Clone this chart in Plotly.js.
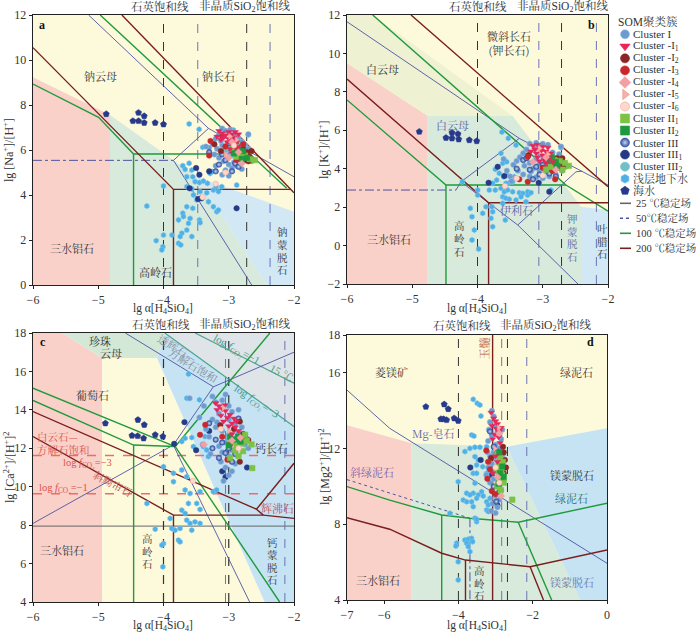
<!DOCTYPE html>
<html><head><meta charset="utf-8">
<script src="https://cdn.plot.ly/plotly-3.0.1.min.js"></script>
<style>html,body{margin:0;padding:0;background:#fff}#plot{width:700px;height:632px}</style>
</head><body><div id="plot"></div>
<script>
const SER='"Liberation Serif","Noto Serif CJK SC","Noto Sans CJK SC",serif';
const CJK='"Noto Serif CJK SC","Noto Sans CJK SC",sans-serif';

// ---------- panel a : lg[Na+]/[H+] ----------
const aYellow=[[-6,0],[-2,0],[-2,12],[-6,12]];
const aPink=[[-6,9.23],[-4.82,7.56],[-4.82,0],[-6,0]];
const aMint=[[-4.82,7.56],[-3.49,4.81],[-2.42,0],[-4.82,0]];
const aBlue=[[-3.49,4.81],[-2,3.26],[-2,0],[-2.42,0]];
const aBrown=[[[-6,10.55],[-3.847,4.25],[-2.054,4.25]],[[-4.638,12],[-2,4.10]],[[-3.847,4.25],[-3.847,0]]];
const aGreen=[[[-6,8.93],[-4.995,7.45],[-4.459,5.82],[-2.676,5.82]],[[-4.97,12],[-2.112,4.30]],[[-4.459,5.82],[-4.459,0]]];
const aNavy=[[[-3.847,5.54],[-3.31,6.96]],[[-5.148,12],[-3.31,6.96],[-2,4.81]],[[-3.847,5.54],[-2.648,0]]];
const aNavyDD=[[[-6,5.54],[-3.847,5.54]]];
const aQtz=[-4.0,-2.725], aAmo=[-3.475,-2.367];
const aSW=[[-4.878,7.60],[-4.469,7.29],[-4.383,7.66],[-4.383,7.29],[-4.296,7.51],[-4.296,7.21],[-4.128,7.21],[-4.0,7.14]];
const aGW=[[-3.607,7.16],[-3.454,6.92],[-3.398,6.12],[-3.704,5.30],[-3.668,5.14],[-3.607,5.41],[-3.566,5.11],[-3.643,4.81],[-3.551,4.81],[-3.515,4.59],[-3.449,4.55],[-3.388,4.62],[-3.327,4.52],[-3.286,4.96],[-3.255,5.04],[-4.0,4.40],[-3.643,4.37],[-3.566,4.27],[-3.541,4.00],[-3.439,4.15],[-3.337,4.10],[-3.235,4.22],[-3.194,4.37],[-3.158,4.15],[-3.107,4.37],[-3.413,3.85],[-3.490,3.78],[-3.551,3.41],[-3.643,3.48],[-3.704,3.19],[-3.770,2.89],[-3.694,3.04],[-3.592,2.96],[-3.449,2.89],[-3.439,2.77],[-3.617,2.74],[-3.643,2.44],[-3.719,2.30],[-3.566,2.15],[-3.770,1.85],[-3.735,1.78],[-4.0,2.22],[-4.112,1.97],[-4.010,1.70],[-4.026,1.56],[-4.255,3.51],[-3.311,3.70],[-3.235,3.48],[-3.184,3.26],[-3.158,3.33],[-2.878,4.44],[-2.699,6.67],[-2.929,6.89],[-3.87,2.22],[-3.745,2.15]];
const aC1=[[-3.10,6.95],[-3.05,6.85],[-2.98,6.9],[-3.15,6.7],[-3.2,6.5],[-3.25,6.3],[-3.3,6.1],[-3.35,6.15],[-3.18,6.05],[-3.1,6.2],[-3.02,6.3],[-2.95,6.45],[-2.9,6.6],[-2.85,6.5],[-2.8,6.35],[-2.75,6.2],[-2.7,6.05],[-2.72,5.85],[-2.78,5.7],[-2.85,5.6],[-2.92,5.45],[-3.0,5.35],[-3.08,5.5],[-3.15,5.65],[-3.22,5.8],[-3.12,5.9],[-3.05,6.0],[-2.98,5.85],[-2.9,5.95],[-2.95,5.2],[-3.05,5.1],[-2.88,5.3],[-2.8,5.15],[-2.7,6.7],[-3.2,5.3],[-2.65,5.5],[-3.1,4.9],[-3.0,4.85],[-2.82,6.1],[-3.12,6.4]];
const aC1_1=[[-3.15,6.85],[-3.1,6.75],[-3.05,6.65],[-3.0,6.8],[-2.95,6.7],[-2.9,6.8],[-2.85,6.7],[-3.08,6.55],[-3.0,6.5],[-2.92,6.55],[-2.88,6.35],[-3.12,6.45],[-3.02,6.35],[-2.95,6.25],[-2.85,6.15],[-3.18,6.6],[-2.98,6.05],[-2.9,6.1]];
const aC1_2=[[-2.78,6.05],[-2.72,5.9],[-2.68,5.7],[-2.75,5.55],[-2.65,5.95],[-3.22,6.25],[-3.12,5.95],[-2.82,5.8],[-2.7,5.5]];
const aC1_3=[[-3.28,6.4],[-3.05,6.15],[-2.95,5.95],[-3.3,5.75],[-2.88,5.55],[-2.78,6.25],[-3.1,6.6]];
const aC1_4=[[-2.95,6.35],[-2.85,5.9],[-3.0,5.65],[-2.8,5.4]];
const aC1_5=[[-2.98,6.6],[-2.88,6.45],[-3.05,5.8]];
const aC1_6=[[-3.05,5.0],[-2.92,6.2],[-3.4,3.9],[-3.2,4.5]];
const aC2_1=[[-2.9,5.95],[-2.82,5.85],[-2.75,5.75],[-2.68,5.6],[-2.6,5.55],[-2.88,5.7],[-2.95,6.05]];
const aC2_2=[[-2.85,6.0],[-2.78,5.95],[-2.92,5.85],[-2.72,5.65],[-2.8,5.6]];
const aC3=[[-3.0,6.1],[-3.1,5.8],[-2.9,5.4],[-3.05,5.55],[-2.85,5.25],[-3.15,5.35],[-2.95,5.05],[-3.2,5.05],[-3.3,5.9]];
const aC3_1=[[-3.5,5.2],[-3.45,4.9],[-3.42,3.85],[-3.47,3.82],[-2.88,3.41],[-3.6,4.3],[-3.3,5.05]];
const aC3_2=[[-2.95,5.75],[-3.05,6.05]];

// ---------- panel b : lg[K+]/[H+] ----------
const bYellow=[[-6,-2],[-2,-2],[-2,12],[-6,12]];
const bPale=[[-6,12],[-5.606,12],[-3.46,6.74],[-4.763,6.74],[-6,9.49]];
const bPink=[[-6,9.49],[-4.763,6.74],[-4.763,-2],[-6,-2]];
const bMint=[[-4.763,6.74],[-3.46,6.74],[-2.414,2.02],[-2.414,-2],[-4.763,-2]];
const bBlue=[[-2.414,2.02],[-2,1.85],[-2,-2],[-2.414,-2]];
const bBrown=[[[-5.019,12],[-2,3.06]],[[-6,8.67],[-3.83,2.23],[-2,2.23]],[[-3.83,2.23],[-3.83,-2]]];
const bGreen=[[[-5.606,12],[-2.644,3.15],[-2,1.79]],[[-6,7.58],[-4.483,3.15],[-2.644,3.15]],[[-4.483,3.15],[-4.483,-2]]];
const bNavy=[[[-6,11.65],[-3.36,5.58],[-2,3.15]],[[-4.33,2.89],[-4.253,3.32],[-3.36,5.58]],[[-4.253,3.32],[-3.383,1.07],[-2.49,3.84],[-2.40,3.87]],[[-3.383,1.07],[-2.46,-2]]];
const bNavyDD=[[[-6,2.89],[-4.33,2.89]]];
const bQtz=[-4.0,-2.712], bAmo=[-3.06,-2.178];
const bSW=[[-4.892,5.93],[-4.483,5.61],[-4.391,5.87],[-4.391,5.58],[-4.299,5.81],[-4.288,5.53],[-4.126,5.49],[-4.012,5.44]];
const bGW=[[-3.625,5.91],[-3.528,5.58],[-3.410,5.23],[-3.640,4.80],[-3.614,4.28],[-3.553,4.36],[-3.727,3.97],[-3.666,3.76],[-3.599,3.58],[-3.553,3.67],[-3.528,3.24],[-3.461,3.32],[-3.436,3.58],[-3.706,3.41],[-3.767,3.24],[-3.819,2.89],[-3.727,2.89],[-3.640,2.98],[-3.589,2.80],[-3.537,2.89],[-3.461,2.80],[-3.359,2.75],[-3.307,2.72],[-3.231,2.63],[-3.614,2.54],[-3.563,2.46],[-3.512,2.41],[-3.410,2.37],[-3.333,2.54],[-3.257,2.28],[-3.231,2.80],[-3.180,2.75],[-3.614,2.20],[-3.870,2.02],[-3.920,1.68],[-3.778,2.02],[-3.767,1.76],[-3.793,1.42],[-3.767,0.98],[-3.574,1.33],[-4.110,1.94],[-4.084,1.50],[-4.049,0.81],[-4.084,0.29],[-3.982,-0.18],[-4.233,3.32],[-3.997,2.89],[-3.997,2.63],[-3.563,3.24],[-2.874,2.89],[-2.720,5.09]];
const bC1=[[-3.2,5.3],[-3.1,5.35],[-3.0,5.3],[-2.92,5.25],[-2.72,5.15],[-3.25,5.0],[-3.3,4.8],[-3.35,4.6],[-3.4,4.4],[-3.45,4.2],[-3.38,3.9],[-3.3,3.7],[-3.2,3.6],[-3.1,3.55],[-3.0,3.5],[-2.9,3.6],[-2.8,3.7],[-2.7,3.9],[-2.65,4.1],[-3.15,4.0],[-3.05,3.9],[-2.95,3.85],[-2.85,4.0],[-3.2,4.3],[-3.1,4.5],[-3.0,4.65],[-2.9,4.7],[-2.8,4.55],[-2.7,4.4],[-3.28,4.15],[-3.18,3.85],[-2.75,4.75],[-3.5,3.6],[-3.55,3.9],[-2.95,4.1],[-3.05,4.25],[-2.85,4.85],[-3.12,5.05],[-3.6,4.5],[-3.48,3.35]];
const bC1_1=[[-3.15,5.2],[-3.08,5.25],[-3.0,5.15],[-2.92,5.1],[-3.12,5.0],[-3.02,4.95],[-2.95,4.9],[-2.88,4.8],[-3.1,4.8],[-3.0,4.7],[-2.9,4.55],[-2.98,4.45],[-3.08,4.6],[-2.85,4.35],[-2.95,4.3],[-3.05,4.4],[-3.18,4.9]];
const bC1_2=[[-2.78,4.55],[-2.72,4.35],[-2.68,4.2],[-2.75,4.05],[-2.82,4.25],[-3.22,4.7],[-2.7,4.55]];
const bC1_3=[[-3.23,4.62],[-3.36,3.45],[-3.23,3.32],[-2.81,3.45],[-3.0,4.05],[-2.9,4.15],[-2.85,3.9]];
const bC1_4=[[-2.95,4.6],[-3.15,4.35],[-2.8,3.95]];
const bC1_5=[[-3.05,5.05],[-2.92,4.75]];
const bC1_6=[[-3.4,3.5],[-3.0,3.65],[-3.58,3.1]];
const bC2_1=[[-2.82,4.45],[-2.74,4.4],[-2.66,4.3],[-2.6,4.15],[-2.88,4.1],[-2.7,3.95],[-2.95,3.95]];
const bC2_2=[[-2.8,4.35],[-2.9,4.45],[-2.78,4.15],[-2.86,4.6]];
const bC3=[[-3.0,4.2],[-3.1,4.1],[-2.9,3.75],[-3.2,3.95],[-3.3,4.45],[-3.05,3.7],[-3.15,3.45],[-2.8,3.6],[-3.4,4.0],[-3.25,4.55]];
const bC3_1=[[-3.69,4.10],[-3.589,3.62],[-3.83,3.27],[-3.062,3.27],[-2.90,2.80]];
const bC3_2=[[-3.0,4.0],[-2.9,4.25]];

// ---------- panel c : lg[Ca2+]/[H+]2 ----------
const cPink=[[-6,18],[-5.55,18],[-4.94,16.7],[-4.94,4],[-6,4]];
const cPale=[[-5.55,18],[-3.95,18],[-4.10,16.7],[-4.94,16.7]];
const cYellow=[[-4.94,16.7],[-4.10,16.7],[-2.45,4],[-4.94,4]];
const cBlue=[[-3.95,18],[-2,18],[-2,4],[-2.45,4],[-4.10,16.7]];
const cGray=[[-3.98,18],[-2,18],[-2,13.13]];
const cTeal=[[[-3.515,18],[-2,15.39]],[[-3.98,18],[-2,13.13]]];
const c25=[[[-6,7.95],[-2,7.95]]];
const cRedDash=[[[-6,11.62],[-2,11.62]],[[-6,9.64],[-2,9.64]]];
const cGreen=[[[-6,15.13],[-3.82,12.09]],[[-6,14.49],[-4.458,12.17],[-3.82,12.09]],[[-4.458,12.17],[-4.458,4]],[[-3.82,12.09],[-2.37,18]],[[-3.82,12.09],[-2.22,4]]];
const cBrown=[[[-6,13.91],[-2.575,8.83],[-2,11.22]],[[-2.575,8.83],[-2.47,8.52]],[[-6,12.61],[-3.847,8.52],[-2.47,8.52],[-2,8.35]],[[-3.847,8.52],[-3.847,4]]];
const cNavy=[[[-6,8.09],[-3.85,12.17],[-3.236,15.2]],[[-4.585,18],[-3.236,15.2],[-2,17.0]],[[-3.85,12.17],[-2.68,4]]];
const cQtz=[-4.0,-3.0], cAmo=[-3.05,-2.14];
const cSW=[[-4.891,13.30],[-4.392,13.48],[-4.295,13.22],[-4.483,12.66],[-4.397,12.64],[-4.305,12.52],[-4.127,12.70],[-4.010,12.61]];
const cGW=[[-3.618,15.86],[-3.644,14.61],[-3.450,14.52],[-3.669,12.52],[-3.720,12.35],[-3.567,12.56],[-3.542,12.09],[-3.389,12.09],[-3.338,11.91],[-3.313,11.57],[-3.364,12.61],[-4.0,11.04],[-3.847,10.70],[-3.720,10.87],[-3.644,10.52],[-3.847,10.26],[-3.669,9.83],[-3.593,9.65],[-3.618,9.13],[-3.491,9.13],[-3.440,9.74],[-3.440,8.82],[-3.720,8.78],[-3.669,8.61],[-3.644,8.26],[-3.593,8.09],[-3.517,8.17],[-3.440,8.09],[-3.746,7.83],[-3.873,7.83],[-3.822,7.74],[-4.0,7.04],[-4.025,6.96],[-4.127,7.79],[-4.010,5.83],[-4.254,9.13],[-3.771,7.22],[-3.746,7.13],[-3.898,8.35],[-3.567,7.74],[-3.237,9.74],[-3.186,9.83]];
const cC1=[[-3.25,14.7],[-3.2,14.4],[-3.1,14.5],[-3.0,14.2],[-2.95,13.9],[-3.15,13.8],[-3.25,13.5],[-3.2,13.1],[-3.1,12.9],[-3.0,12.7],[-2.9,12.5],[-2.85,12.8],[-3.05,12.3],[-3.15,12.1],[-3.1,11.8],[-3.0,11.6],[-2.95,11.9],[-3.3,12.6],[-3.35,13.0],[-2.9,13.3],[-2.8,13.1],[-2.75,12.2],[-3.12,11.3],[-3.05,11.0],[-3.0,10.6],[-3.08,10.3],[-2.9,11.2],[-3.4,12.2],[-3.45,13.6],[-2.7,12.0],[-3.18,13.35],[-3.0,13.5],[-2.85,14.0],[-3.28,11.7],[-2.95,10.8],[-3.05,14.8],[-3.6,14.6],[-3.38,14.2]];
const cC1_1=[[-3.2,14.35],[-3.15,14.2],[-3.1,14.05],[-3.05,13.95],[-3.12,13.7],[-3.02,13.6],[-2.98,13.75],[-2.92,13.55],[-3.08,13.4],[-2.95,13.3],[-2.9,13.1],[-3.0,13.15],[-2.85,12.9],[-2.95,12.75],[-3.18,14.0],[-3.06,14.25],[-2.88,13.4]];
const cC1_2=[[-2.83,13.39],[-2.83,11.3],[-2.70,12.43],[-3.13,13.2],[-2.78,12.75],[-2.75,12.6],[-2.92,13.0]];
const cC1_3=[[-3.36,13.22],[-3.44,12.7],[-3.1,12.6],[-2.98,12.2],[-3.02,11.4]];
const cC1_4=[[-3.38,12.2],[-2.95,12.4],[-2.82,12.55]];
const cC1_5=[[-3.0,12.9],[-3.08,14.1]];
const cC1_6=[[-3.55,10.3],[-3.12,13.0],[-2.85,12.0]];
const cC2_1=[[-2.95,12.35],[-2.88,12.15],[-2.8,12.25],[-2.72,12.4],[-2.65,12.2],[-2.9,11.9],[-2.78,11.85],[-2.64,10.97],[-2.85,11.6],[-2.98,11.5],[-2.75,12.7]];
const cC2_2=[[-2.98,12.6],[-2.9,12.45],[-2.82,12.35],[-3.0,12.15],[-2.86,12.6]];
const cC3=[[-3.1,12.3],[-3.0,12.0],[-2.9,11.7],[-3.2,12.45],[-3.25,12.0],[-3.05,11.75],[-3.15,11.5],[-2.95,11.3],[-3.3,13.3],[-2.85,13.55]];
const cC3_1=[[-3.837,12.23],[-3.679,13.36],[-3.1,10.8],[-3.05,10.5],[-2.72,11.0],[-3.5,11.9],[-3.3,12.9]];
const cC3_2=[[-3.0,12.5]];

// ---------- panel d : lg[Mg2+]/[H+]2 ----------
const dYellow=[[-7,4],[0,4],[0,18],[-7,18]];
const dPink=[[-7,13.23],[-5.263,12.28],[-5.263,4],[-7,4]];
const dMint=[[-5.263,12.28],[-2.70,12.1],[-0.72,4],[-5.263,4]];
const dBlue=[[-2.70,12.1],[0,13.07],[0,4],[-0.72,4]];
const dNavy=[[[-7,15.09],[-5.85,13.07],[0,5.94]]];
const dNavyDot=[[[-7,10.36],[-5.85,9.65],[-3.69,8.32]]];
const dNavyDD=[[[-3.69,8.32],[-3.69,4]]];
const dGreen=[[[-7,9.99],[-5.85,9.28],[-4.45,8.49],[-3.69,8.32],[-2.39,8.11],[0,9.11]],[[-2.39,8.11],[-1.49,4]],[[-4.45,8.49],[-4.45,4]]];
const dBrown=[[[-7,8.35],[-5.85,7.74],[-4.45,6.47],[-3.81,6.11],[-2.07,5.76],[0,6.64]],[[-2.07,5.76],[-1.71,4]],[[-3.81,6.11],[-3.81,4]],[[-3.08,4],[-3.08,18]]];
const dQtz=[-4.0,-2.68], dAmo=[-2.835,-2.16];
const dSW=[[-4.877,14.21],[-4.383,14.34],[-4.275,14.09],[-4.472,13.56],[-4.40,13.56],[-4.318,13.51],[-4.114,13.60],[-4.006,13.47]];
const dGW=[[-3.601,14.60],[-3.493,14.39],[-3.420,14.30],[-3.393,13.72],[-3.644,12.72],[-3.582,12.66],[-3.825,11.84],[-3.690,12.01],[-3.555,12.07],[-3.420,12.07],[-3.240,12.10],[-3.555,11.57],[-3.466,11.40],[-3.510,11.13],[-3.348,11.04],[-3.601,10.69],[-3.510,10.69],[-3.240,10.69],[-3.555,10.17],[-4.006,10.25],[-3.601,9.64],[-3.466,9.55],[-3.779,9.64],[-3.690,9.55],[-3.375,9.72],[-3.331,9.49],[-3.871,9.28],[-3.779,9.19],[-3.644,9.19],[-3.510,9.37],[-3.240,9.19],[-3.196,9.02],[-3.601,8.93],[-4.230,8.58],[-3.555,8.32],[-3.510,8.14],[-3.825,7.17],[-3.736,7.21],[-3.644,7.26],[-3.779,7.0],[-3.736,6.82],[-3.690,6.55],[-4.049,7.0],[-4.068,6.85],[-4.006,6.02],[-4.006,5.06],[-3.617,7.08],[-3.510,8.26],[-3.240,8.76],[-3.196,8.67],[-3.150,9.37]];
const dC1=[[-3.1,14.0],[-3.05,13.7],[-3.15,13.4],[-3.0,13.2],[-2.95,12.9],[-3.1,12.7],[-3.2,12.4],[-3.0,12.2],[-2.9,12.0],[-3.05,11.8],[-3.15,11.6],[-2.95,11.4],[-3.1,11.2],[-3.2,11.0],[-3.0,10.8],[-2.88,10.6],[-3.05,10.4],[-3.15,10.2],[-2.95,10.0],[-3.1,9.8],[-3.0,9.5],[-2.9,9.3],[-3.08,9.1],[-2.95,8.9],[-3.0,8.6],[-2.85,12.5],[-2.82,13.0],[-3.18,13.0],[-2.9,11.0],[-3.22,11.8],[-2.85,9.8],[-3.12,8.7],[-2.8,11.7],[-3.25,10.6]];
const dC1_1=[[-3.05,13.6],[-3.0,13.45],[-2.95,13.3],[-3.1,13.2],[-2.98,13.05],[-2.9,12.9],[-3.02,12.75],[-2.92,12.6],[-3.08,12.5],[-2.88,12.3],[-3.0,11.6],[-2.95,11.3],[-3.08,10.7],[-3.12,13.9],[-2.85,13.1]];
const dC1_2=[[-2.78,11.8],[-2.75,11.4],[-2.72,11.0],[-2.78,10.7],[-2.8,12.1],[-3.12,11.5],[-2.85,10.3]];
const dC1_3=[[-3.25,11.9],[-3.2,11.3],[-3.15,10.9],[-3.0,9.6],[-3.1,9.75],[-3.22,10.4]];
const dC1_4=[[-2.9,12.8],[-2.95,10.5],[-2.85,9.5]];
const dC1_5=[[-2.92,13.1],[-3.02,12.0]];
const dC1_6=[[-2.9,10.2],[-3.0,11.0]];
const dC2_1=[[-2.95,11.7],[-2.88,11.5],[-2.8,11.3],[-2.92,11.1],[-2.85,10.9],[-2.98,10.8],[-2.82,10.6],[-2.9,10.4],[-2.78,10.2],[-2.95,10.0],[-2.86,9.8],[-2.55,9.3]];
const dC2_2=[[-2.9,11.8],[-2.82,11.05],[-2.88,10.7],[-2.78,10.5],[-2.92,10.15]];
const dC3=[[-3.05,12.1],[-2.95,11.85],[-3.1,10.9],[-2.9,9.7],[-3.05,10.0],[-2.98,9.2],[-3.15,12.9]];
const dC3_1=[[-3.68,11.0],[-3.1,10.6],[-2.95,9.0],[-3.4,11.4]];
const dC3_2=[[-2.98,11.45]];

// ---------- legend ----------
const legendKeys=['C1','C1_1','C1_2','C1_3','C1_4','C1_5','C1_6','C2_1','C2_2','C3','C3_1','C3_2','GW','SW'];
const legendLabels=['Cluster I','Cluster -I<sub>1</sub>','Cluster -I<sub>2</sub>','Cluster -I<sub>3</sub>','Cluster -I<sub>4</sub>','Cluster -I<sub>5</sub>','Cluster -I<sub>6</sub>','Cluster II<sub>1</sub>','Cluster II<sub>2</sub>','Cluster III','Cluster III<sub>1</sub>','Cluster III<sub>2</sub>','浅层地下水','海水'];
const lineLabels=['25 ℃稳定场','50℃稳定场','100 ℃稳定场','200 ℃稳定场'];

// ---------- styles ----------
const COL={brown:'#7a1e1e',green:'#1f9a3c',navy:'#4d53a3',qtz:'#333333',amo:'#6b73b8',g25:'#666666',teal:'#4aa58c',red:'#ef6b6b'};
const STY={
 C1:{s:'circle',c:'#6c9bcf',l:'#9cbfe3'},
 C1_1:{s:'triangle-down',c:'#e8265a',l:'#e8265a'},
 C1_2:{s:'circle',c:'#8a2626',l:'#8a2626'},
 C1_3:{s:'circle',c:'#c8282c',l:'#c8282c'},
 C1_4:{s:'diamond',c:'#f3a0a4',l:'#f3a0a4'},
 C1_5:{s:'triangle-right',c:'#f6b0aa',l:'#ee8e8a'},
 C1_6:{s:'circle',c:'#fcd9cf',l:'#f2a090'},
 C2_1:{s:'square',c:'#7cc244',l:'#7cc244'},
 C2_2:{s:'square',c:'#1c9a3e',l:'#1c9a3e'},
 C3:{s:'circle',c:'#2f4f9f',l:'#2f4f9f',g:'#c6d7f0'},
 C3_1:{s:'circle',c:'#263b86',l:'#263b86'},
 C3_2:{s:'circle',c:'#72bfc6',l:'#72bfc6'},
 GW:{s:'hexagon',c:'#4fb0e6',l:'#7cc8f0'},
 SW:{s:'pentagon',c:'#27398a',l:'#27398a'}
};

const P={
 a:{x:'x',y:'y',xr:[-6,-2],yr:[0,12],px:[33,294],py:[15,285]},
 b:{x:'x2',y:'y2',xr:[-6,-2],yr:[-2,12],px:[347,608],py:[15,284]},
 c:{x:'x3',y:'y3',xr:[-6,-2],yr:[4,18],px:[33,294],py:[333,602]},
 d:{x:'x4',y:'y4',xr:[-7,0],yr:[4,18],px:[347,607],py:[335,600]}
};
const W=700,H=632;
const traces=[];
function poly(p,pts,col){traces.push({type:'scatter',xaxis:p.x,yaxis:p.y,x:pts.map(q=>q[0]),y:pts.map(q=>q[1]),mode:'lines',fill:'toself',fillcolor:col,line:{width:0,color:col},hoverinfo:'skip',showlegend:false});}
function lines(p,list,col,w,dash){list.forEach(pts=>traces.push({type:'scatter',xaxis:p.x,yaxis:p.y,x:pts.map(q=>q[0]),y:pts.map(q=>q[1]),mode:'lines',line:{color:col,width:w,dash:dash||'solid'},hoverinfo:'skip',showlegend:false}));}
function vlines(p,xs,col,w,dash){lines(p,xs.map(v=>[[v,p.yr[0]],[v,p.yr[1]]]),col,w,dash);}
function pts(p,data,key,sz){const st=STY[key];const m={symbol:st.s,color:st.c,size:sz||5.5,line:{color:st.l,width:0.5}};if(st.g)m.gradient={type:'radial',color:st.g};
 traces.push({type:'scatter',xaxis:p.x,yaxis:p.y,x:data.map(q=>q[0]),y:data.map(q=>q[1]),mode:'markers',marker:m,hoverinfo:'skip',showlegend:false});}

// panel a
poly(P.a,aYellow,'#fdfadc');poly(P.a,aPink,'#f9d1c9');poly(P.a,aMint,'#d7eadb');poly(P.a,aBlue,'#d2e8f5');
vlines(P.a,aQtz,COL.qtz,1,'dash');vlines(P.a,aAmo,COL.amo,1,'dash');
lines(P.a,aNavy,COL.navy,0.9);lines(P.a,aNavyDD,COL.navy,1,'dashdot');
lines(P.a,aGreen,COL.green,1.4);lines(P.a,aBrown,COL.brown,1.4);
// panel b
poly(P.b,bYellow,'#fdfadc');poly(P.b,bPale,'#eef2d2');poly(P.b,bPink,'#f9d1c9');poly(P.b,bMint,'#d7eadb');poly(P.b,bBlue,'#d2e8f5');
vlines(P.b,bQtz,COL.qtz,1,'dash');vlines(P.b,bAmo,COL.amo,1,'dash');
lines(P.b,bNavy,COL.navy,0.9);lines(P.b,bNavyDD,COL.navy,1,'dashdot');
lines(P.b,bGreen,COL.green,1.4);lines(P.b,bBrown,COL.brown,1.4);
// panel c
poly(P.c,cPink,'#f9d1c9');poly(P.c,cPale,'#d3e8d6');poly(P.c,cYellow,'#fdfadc');poly(P.c,cBlue,'#c6e3f4');poly(P.c,cGray,'#dfe4e8');
lines(P.c,c25,COL.g25,1);lines(P.c,cRedDash,COL.red,1.5,'dash');
vlines(P.c,cQtz,COL.qtz,1.2,'dash');vlines(P.c,cAmo,COL.amo,1,'dash');
lines(P.c,cTeal,COL.teal,1.2);lines(P.c,cNavy,COL.navy,0.9);
lines(P.c,cGreen,COL.green,1.4);lines(P.c,cBrown,COL.brown,1.4);
// panel d
poly(P.d,dYellow,'#fdfadc');poly(P.d,dPink,'#f9d1c9');poly(P.d,dMint,'#d7eadb');poly(P.d,dBlue,'#c6e3f4');
vlines(P.d,dQtz,COL.qtz,1,'dash');vlines(P.d,dAmo,COL.amo,1,'dash');
lines(P.d,dNavy,COL.navy,0.9);lines(P.d,dNavyDot,COL.navy,1,'dot');lines(P.d,dNavyDD,COL.navy,1,'dashdot');
lines(P.d,dGreen,COL.green,1.4);lines(P.d,dBrown,COL.brown,1.4);

const SER_DATA={
 a:{GW:aGW,SW:aSW,C3_1:aC3_1,C1:aC1,C3:aC3,C3_2:aC3_2,C1_2:aC1_2,C1_3:aC1_3,C2_1:aC2_1,C2_2:aC2_2,C1_1:aC1_1,C1_4:aC1_4,C1_5:aC1_5,C1_6:aC1_6},
 b:{GW:bGW,SW:bSW,C3_1:bC3_1,C1:bC1,C3:bC3,C3_2:bC3_2,C1_2:bC1_2,C1_3:bC1_3,C2_1:bC2_1,C2_2:bC2_2,C1_1:bC1_1,C1_4:bC1_4,C1_5:bC1_5,C1_6:bC1_6},
 c:{GW:cGW,SW:cSW,C3_1:cC3_1,C1:cC1,C3:cC3,C3_2:cC3_2,C1_2:cC1_2,C1_3:cC1_3,C2_1:cC2_1,C2_2:cC2_2,C1_1:cC1_1,C1_4:cC1_4,C1_5:cC1_5,C1_6:cC1_6},
 d:{GW:dGW,SW:dSW,C3_1:dC3_1,C1:dC1,C3:dC3,C3_2:dC3_2,C1_2:dC1_2,C1_3:dC1_3,C2_1:dC2_1,C2_2:dC2_2,C1_1:dC1_1,C1_4:dC1_4,C1_5:dC1_5,C1_6:dC1_6}
};
['a','b','c','d'].forEach(k=>{const S=SER_DATA[k];Object.keys(S).forEach(key=>pts(P[k],S[key],key,key==='SW'?6.5:5.5));});

// legend (own hidden axes, pixel-like scale)
const LX=P.b.px[1]+1;
const legY0=34.3,legDy=12.03,lineY0=203.3,lineDy=15;
legendKeys.forEach((key,i)=>{const st=STY[key];const m={symbol:st.s,color:st.c,size:9,line:{color:st.l,width:0.6}};if(st.g)m.gradient={type:'radial',color:st.g};
 traces.push({type:'scatter',xaxis:'x5',yaxis:'y5',x:[625],y:[legY0+i*legDy],mode:'markers',marker:m,hoverinfo:'skip',showlegend:false});});
const lineCols=[[COL.g25,'solid'],[COL.navy,'dot'],[COL.green,'solid'],[COL.brown,'solid']];
lineLabels.forEach((t,j)=>{traces.push({type:'scatter',xaxis:'x5',yaxis:'y5',x:[620,631],y:[lineY0+j*lineDy,lineY0+j*lineDy],mode:'lines',line:{color:lineCols[j][0],width:1.6,dash:lineCols[j][1]},hoverinfo:'skip',showlegend:false});});

// ---------- annotations ----------
const ann=[];
function A(p,text,x,y,o){o=o||{};ann.push(Object.assign({xref:p.x,yref:p.y,x:x,y:y,text:text,showarrow:false,font:{family:o.fam||CJK,size:o.size||11,color:o.color||'#333'},xanchor:'center',yanchor:'middle'},o.ang!==undefined?{textangle:o.ang}:{}));}
function V(p,text,x,yTop,step,color){const u=(p.yr[1]-p.yr[0])/(p.py[1]-p.py[0]);[...text].forEach((ch,i)=>A(p,ch,x,yTop-i*step*u,{color:color,size:10.5}));}
function paperText(text,ox,oy,o){o=o||{};ann.push(Object.assign({xref:'paper',yref:'paper',x:ox/W,y:1-oy/H,text:text,showarrow:false,font:{family:o.fam||SER,size:o.size||12,color:o.color||'#333'},xanchor:o.xa||'center',yanchor:'middle'},o.ang!==undefined?{textangle:o.ang}:{}));}
const BLU_T='#5a64a8';
const VS=12.6;
// a
A(P.a,'钠云母',-4.97,9.29);A(P.a,'钠长石',-3.16,9.29);A(P.a,'三水铝石',-5.40,1.64);A(P.a,'高岭石',-4.13,0.58);
V(P.a,'钠蒙脱石',-2.17,2.36,VS);A(P.a,'<b>a</b>',-5.86,11.56,{fam:SER,size:12,color:'#111'});
// b
A(P.b,'白云母',-5.45,9.17);A(P.b,'白云母',-4.39,6.27,{color:BLU_T});A(P.b,'微斜长石<br>(钾长石)',-3.52,10.55);
V(P.b,'高岭石',-4.28,1.02,VS);A(P.b,'三水铝石',-5.36,0.34);A(P.b,'伊利石',-3.41,1.85,{color:BLU_T});
V(P.b,'钾蒙脱石',-2.54,1.40,VS,BLU_T);V(P.b,'叶腊石',-2.08,0.88,VS);A(P.b,'<b>b</b>',-2.26,11.48,{fam:SER,size:12,color:'#111'});
// c
A(P.c,'珍珠',-4.97,17.58);A(P.c,'云母',-4.81,16.98);A(P.c,'葡萄石',-5.09,14.78);
A(P.c,'白云石—',-5.62,12.62,{color:'#d9534f',size:10.5});A(P.c,'方解石饱和',-5.53,11.93,{color:'#d9534f',size:10.5});
A(P.c,'log <i>f</i><sub>CO₂</sub>=−3',-5.16,11.22,{fam:SER,color:'#d9534f',size:10.5});
A(P.c,'斜黝帘石',-4.77,10.19,{color:'#c0504d',ang:28,size:10.5});
A(P.c,'log <i>f</i><sub>CO₂</sub>=−1',-5.53,9.92,{fam:SER,color:'#d9534f',size:10.5});
A(P.c,'三水铝石',-5.55,6.7);V(P.c,'高岭石',-4.25,7.30,VS);A(P.c,'钙长石',-2.34,12.02);
A(P.c,'辉沸石',-2.25,8.89,{color:'#c0504d'});V(P.c,'钙蒙脱石',-2.325,7.12,VS);
A(P.c,'透辉石—',-3.78,17.23,{color:'#8a8f96',ang:31});A(P.c,'方解石饱和',-3.54,16.35,{color:'#8a8f96',ang:31});
A(P.c,'log <i>f</i><sub>CO₂</sub>=−1',-2.88,17.13,{fam:SER,color:'#4a9a8a',ang:29});
A(P.c,'15 ℃',-2.19,15.91,{fam:SER,color:'#4a9a8a',ang:29});
A(P.c,'log <i>f</i><sub>CO₂</sub>=−3',-2.57,14.43,{fam:SER,color:'#4a9a8a',ang:33});
A(P.c,'<b>c</b>',-5.85,17.55,{fam:SER,size:12,color:'#111'});
// d
A(P.d,'菱镁矿',-5.80,16.06);A(P.d,'绿泥石',-0.81,16.06);A(P.d,'Mg-皂石',-4.68,12.81,{color:BLU_T});
A(P.d,'斜绿泥石',-6.34,10.78,{color:'#7a5fa8'});A(P.d,'镁蒙脱石',-0.95,10.60);A(P.d,'绿泥石',-0.95,9.37,{color:'#2f6f5f'});
A(P.d,'镁蒙脱石',-0.95,4.97,{color:'#6a75b0'});A(P.d,'三水铝石',-6.16,5.06);V(P.d,'高岭石',-3.42,5.55,VS);
A(P.d,'玉髓',-3.30,17.31,{color:'#b5533a',ang:-90});A(P.d,'<b>d</b>',-0.45,17.65,{fam:SER,size:12,color:'#111'});
// saturation line titles
[[160,245,6],[478,562,6],[161,245,324],[462,545,325]].forEach(r=>{paperText('石英饱和线',r[0],r[2],{size:11.5});paperText('非晶质SiO<sub>2</sub>饱和线',r[1],r[2],{size:11.5});});
// axis titles
const XT='lg α[H<sub>4</sub>SiO<sub>4</sub>]';
paperText(XT,163,309,{size:11.5});paperText(XT,477,309,{size:11.5});paperText(XT,163,626,{size:11.5});paperText(XT,477,626,{size:11.5});
paperText('lg [Na<sup>+</sup>]/[H<sup>+</sup>]',9,150,{ang:-90});
paperText('lg [K<sup>+</sup>]/[H<sup>+</sup>]',324,150,{ang:-90});
paperText('lg [Ca<sup>2+</sup>]/[H<sup>+</sup>]<sup>2</sup>',9,467,{ang:-90});
paperText('lg [Mg2<sup>+</sup>]/[H<sup>+</sup>]<sup>2</sup>',324,467,{ang:-90});
// legend texts
ann.push({xref:'x5',yref:'y5',x:616,y:21.7,text:'SOM聚类簇',showarrow:false,xanchor:'left',yanchor:'middle',font:{family:SER,size:11.5,color:'#333'}});
legendLabels.forEach((t,i)=>ann.push({xref:'x5',yref:'y5',x:631,y:legY0+i*legDy,text:t,showarrow:false,xanchor:'left',yanchor:'middle',font:{family:SER,size:11,color:'#333'}}));
lineLabels.forEach((t,j)=>ann.push({xref:'x5',yref:'y5',x:634,y:lineY0+j*lineDy,text:t,showarrow:false,xanchor:'left',yanchor:'middle',font:{family:SER,size:10.5,color:'#333'}}));

// ---------- axes ----------
function ax(p,dir,anchor,extra){const isX=dir==='x';const dom=isX?[p.px[0]/W,p.px[1]/W]:[1-p.py[1]/H,1-p.py[0]/H];
 return Object.assign({domain:dom,range:isX?p.xr:p.yr,anchor:anchor,showline:true,mirror:true,linecolor:'#222',linewidth:1.3,ticks:'outside',ticklen:3,tickcolor:'#222',showgrid:false,zeroline:false,fixedrange:true,tickfont:{family:SER,size:12,color:'#333'}},extra);}
const layout={width:W,height:H,margin:{l:0,r:0,t:0,b:0},paper_bgcolor:'#fff',plot_bgcolor:'rgba(0,0,0,0)',showlegend:false,
 xaxis:ax(P.a,'x','y',{dtick:1}),yaxis:ax(P.a,'y','x',{dtick:2}),
 xaxis2:ax(P.b,'x','y2',{dtick:1}),yaxis2:ax(P.b,'y','x2',{dtick:2}),
 xaxis3:ax(P.c,'x','y3',{dtick:1}),yaxis3:ax(P.c,'y','x3',{dtick:2}),
 xaxis4:ax(P.d,'x','y4',{tickvals:[-7,-6,-4,-2,0]}),yaxis4:ax(P.d,'y','x4',{tickvals:[4,8,12,16,18]}),
 xaxis5:{domain:[LX/W,1],range:[LX,W],visible:false,anchor:'y5',fixedrange:true},
 yaxis5:{domain:[0,1],range:[H,0],visible:false,anchor:'x5',fixedrange:true},
 annotations:ann};
Plotly.newPlot('plot',traces,layout,{displayModeBar:false,staticPlot:true});
</script></body></html>
